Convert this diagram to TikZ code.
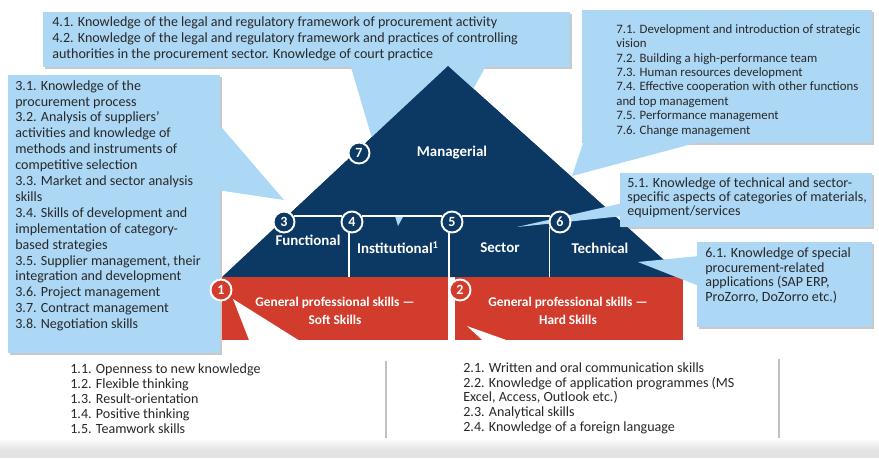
\documentclass[tikz,border=0pt]{standalone}
\usepackage{fontspec}
\setmainfont{Carlito}
\usetikzlibrary{calc,fit,shadows}

\definecolor{navy}{RGB}{12,56,100}
\definecolor{redband}{RGB}{210,60,44}
\definecolor{callblue}{RGB}{172,216,245}
\definecolor{txtgray}{RGB}{40,40,40}

\tikzset{callbox/.style={fill=callblue, inner sep=0pt, drop shadow={shadow xshift=1.2pt, shadow yshift=-1.2pt, opacity=0.3, fill=black!70}}}
\tikzset{notebox/.style={fill=white, inner sep=0pt, drop shadow={shadow xshift=1.2pt, shadow yshift=-0.8pt, opacity=0.35, fill=black!70}}}
\tikzset{calltext/.style={anchor=north west, inner sep=0pt, align=left, text=txtgray, font=\fontsize{8}{8.5}\selectfont}}
\tikzset{num/.style={circle, draw=white, line width=1.1pt, fill=navy, text=white, inner sep=0pt, minimum size=0.42cm, font=\fontsize{8}{8}\selectfont\bfseries}}
\tikzset{numred/.style={num, fill=redband}}
\tikzset{tier/.style={text=white, align=center, font=\fontsize{8.5}{10}\selectfont\bfseries}}
\tikzset{bandtext/.style={text=white, align=center, font=\fontsize{7.6}{10.2}\selectfont\bfseries}}
\tikzset{divider/.style={white, line width=0.9pt}}

\begin{document}
\begin{tikzpicture}[x=0.02cm, y=-0.02cm]
\useasboundingbox (0,0) rectangle (879,458);

% pyramid body
\coordinate (pl) at (222,277);
\coordinate (pt) at (448,66);
\coordinate (pr) at (683,277);
\fill[navy] (pl) -- (pt) -- (pr) -- cycle;

% legal framework callout, pointer runs behind the top
\node[callbox, fit={(43,12) (570,67)}] (b4) {};
\coordinate (tip4) at (398,226);
\fill[callblue] (350,64) -- (tip4) -- (487,64) -- cycle;
\fill[navy] ($(pl)!61/211!(pt)$) -- (pt) -- ($(pr)!61/211!(pt)$) -- cycle;

% skills bands
\node[fill=redband, inner sep=0pt, fit={(222,277) (448,340)}] (soft) {};
\node[fill=redband, inner sep=0pt, fit={(455,277) (683,340)}] (hard) {};

% callouts
\node[callbox, fit={(8,75) (220,353)}] (b3) {};
\coordinate (tip3) at (284,200);
\fill[callblue] (217,122) -- (tip3) -- (217,190) -- cycle;

\node[callbox, fit={(582,10) (872,143)}] (b7) {};
\coordinate (tip7) at (572,176);
\fill[callblue] (584,140) -- (tip7) -- (707,140) -- cycle;

\node[callbox, fit={(620,173) (872,227)}] (b5) {};
\coordinate (tip5) at (517,227);
\fill[callblue] (623,203) -- (tip5) -- (623,216) -- cycle;

\node[callbox, fit={(697,242) (872,327)}] (b6) {};
\coordinate (tip6) at (638,262);
\fill[callblue] (699,256) -- (tip6) -- (699,286) -- cycle;

\node[notebox, fit={(60,360) (385,452)}] (b1) {};
\coordinate (tip1) at (233,299);
\fill[white] (tip1) -- (258,363) -- (335,363) -- cycle;

\node[notebox, fit={(453,358) (778,452)}] (b2) {};
\coordinate (tip2) at (467,326);
\fill[white] (tip2) -- (505,361) -- (565,361) -- cycle;

% numbered markers
\node[numred] (n1) at (221,290) {1};
\node[numred] (n2) at (460,290) {2};
\node[num] (n3) at (284,222) {3};
\node[num] (n4) at (352,222) {4};
\node[num] (n5) at (452,222) {5};
\node[num] (n6) at (560,222) {6};
\node[num] (n7) at (359,153) {7};

% white dividers
\draw[divider] (n3.30) -- (n4.150) (n4.30) -- (n5.150) (n5.30) -- (n6.150);
\draw[divider] (n4.254) -- (n4.254 |- pl);
\draw[divider] (n5.255) -- ($(n5.255 |- pl)+(0,12)$);
\draw[divider] (n6.205) -- (n6.205 |- pl);

% level names
\node[tier] (mgr) at (452,153) {Managerial};
\node[tier] (fun) at (308,240) {Functional};
\node[tier] (ins) at (398,248) {Institutional\textsuperscript{1}};
\node[tier] (sec) at (500,248) {Sector};
\node[tier] (tec) at (600,248) {Technical};
\node[bandtext] (softtxt) at (335,311) {General professional skills ---\\Soft Skills};
\node[bandtext] (hardtxt) at (568,311) {General professional skills ---\\Hard Skills};

% callout texts
\node[calltext, font=\fontsize{8}{9.35}\selectfont] (t4) at (52,16) {4.1. Knowledge of the legal and regulatory framework of procurement activity\\4.2. Knowledge of the legal and regulatory framework and practices of controlling\\authorities in the procurement sector. Knowledge of court practice};
\node[calltext, font=\fontsize{8}{9.05}\selectfont] (t3) at (15,80) {3.1. Knowledge of the\\procurement process\\3.2. Analysis of suppliers’\\activities and knowledge of\\methods and instruments of\\competitive selection\\3.3. Market and sector analysis\\skills\\3.4. Skills of development and\\implementation of category-\\based strategies\\3.5. Supplier management, their\\integration and development\\3.6. Project management\\3.7. Contract management\\3.8. Negotiation skills};
\node[calltext, font=\fontsize{7.3}{8.2}\selectfont] (t7) at (616,24) {7.1. Development and introduction of strategic\\vision\\7.2. Building a high-performance team\\7.3. Human resources development\\7.4. Effective cooperation with other functions\\and top management\\7.5. Performance management\\7.6. Change management};
\node[calltext, font=\fontsize{8}{8.2}\selectfont] (t5) at (627,177) {5.1. Knowledge of technical and sector-\\specific aspects of categories of materials,\\equipment/services};
\node[calltext] (t6) at (705,247) {6.1. Knowledge of special\\procurement-related\\applications (SAP ERP,\\ProZorro, DoZorro etc.)};
\node[calltext, font=\fontsize{8}{8.6}\selectfont] (t1) at (70,363) {1.1. Openness to new knowledge\\1.2. Flexible thinking\\1.3. Result-orientation\\1.4. Positive thinking\\1.5. Teamwork skills};
\node[calltext] (t2) at (463,362) {2.1. Written and oral communication skills\\2.2. Knowledge of application programmes (MS\\Excel, Access, Outlook etc.)\\2.3. Analytical skills\\2.4. Knowledge of a foreign language};

% grey strip at the foot
\shade[top color=white, bottom color=black!11] (0,438) rectangle (879,450);
\fill[black!11] (0,450) rectangle (879,458);
\end{tikzpicture}
\end{document}
